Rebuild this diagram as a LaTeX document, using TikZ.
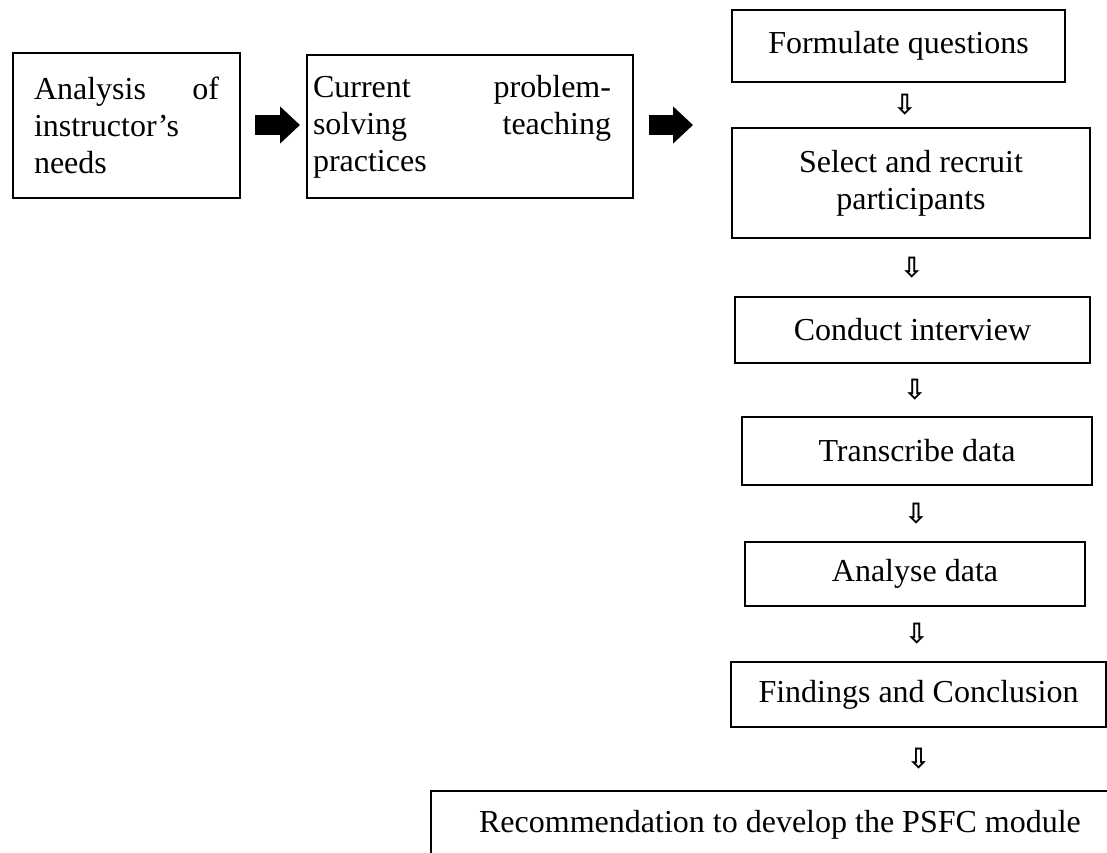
\documentclass[tikz,border=0pt]{standalone}
\usepackage{fontspec}
\setmainfont{Liberation Serif}
\newfontfamily\arrowfont{DejaVu Sans Bold}
\usetikzlibrary{arrows.meta, positioning}
\tikzstyle{box} = [draw, rectangle, line width=1pt, inner ysep=0pt, font=\fontsize{16pt}{18.4pt}\selectfont]
\tikzstyle{flow} = [draw, line width=10pt, -{Triangle[length=10pt, width=18pt]}]
\tikzstyle{downarrow} = [inner sep=0pt, font=\arrowfont\fontsize{14pt}{14pt}\selectfont]

\begin{document}
\begin{tikzpicture}[x=0.5pt, y=-0.5pt]
    \useasboundingbox (0,0) rectangle (1107,852);
    \clip (0,0) rectangle (1107,852);
    % Place nodes
    \node [box, anchor=north west, text width=92.5pt, align=justify, inner xsep=10.5pt, minimum height=72.5pt] (needs) at (12,52) {Analysis of\linebreak instructor’s\linebreak needs};
    \node [box, anchor=west, inner xsep=3pt, minimum height=71.5pt] (practices) at (306,126.5) {\parbox[c]{149pt}{Current problem-\linebreak solving teaching\linebreak practices}\hspace*{8pt}};
    \coordinate (next) at (693,125);

    \node [box, minimum width=166.5pt, minimum height=36pt] (quest) at (898.5,46) {Formulate questions};
    \node [box, minimum width=179pt, minimum height=55pt, align=center] (recruit) at (911,183) {Select and recruit\\participants};
    \node [box, minimum width=177.5pt, minimum height=33pt] (interview) at (912.5,330) {Conduct interview};
    \node [box, minimum width=175pt, minimum height=34pt] (transcribe) at (917,451) {Transcribe data};
    \node [box, minimum width=170pt, minimum height=32pt] (analyse) at (915,574) {Analyse data};
    \node [box, minimum width=187.5pt, minimum height=32.5pt] (findings) at (918.5,694.5) {Findings and Conclusion};
    \node [box, anchor=north west, minimum width=349pt, minimum height=34pt] (module) at (430,790) {Recommendation to develop the PSFC module};

    % Connectors
    \path [flow, shorten <=7pt, shorten >=3pt] (needs.east |- next) -- (practices.west |- next);
    \path [flow, shorten <=7.5pt] (practices.east |- next) -- (next);

    \path (quest.south) -- node [downarrow] {⇩} (recruit.north);
    \path (recruit.south) -- node [downarrow] {⇩} (interview.north);
    \path (interview.south) -- node [downarrow] {⇩} (transcribe.north);
    \path (transcribe.south) -- node [downarrow] {⇩} (analyse.north);
    \path (analyse.south) -- node [downarrow] {⇩} (findings.north);
    \path (findings.south) -- node [downarrow] {⇩} (findings.south |- module.north);

\end{tikzpicture}
\end{document}
